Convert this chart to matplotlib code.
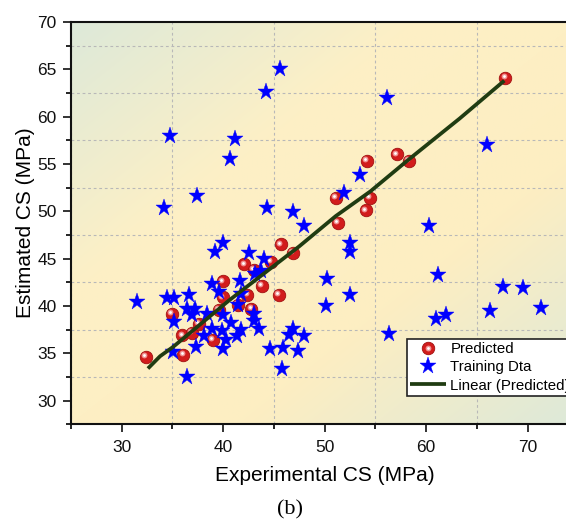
import numpy as np
import matplotlib
matplotlib.use('Agg')
import matplotlib.pyplot as plt
import matplotlib.transforms as mtransforms
from matplotlib.colors import LinearSegmentedColormap
from matplotlib.ticker import MultipleLocator, FixedLocator

##### datos #####
# Predicted
pred_x = [32.4, 35.0, 36.0, 36.1, 36.9, 37.6, 39.0, 39.6, 40.0, 40.0,
          41.5, 42.1, 42.4, 42.8, 43.0, 43.8, 44.7, 45.5, 45.7, 46.9,
          51.1, 51.3, 54.1, 54.2, 54.5, 57.1, 58.3, 67.8]
pred_y = [34.6, 39.2, 36.9, 34.8, 37.2, 38.1, 36.4, 39.6, 42.6, 40.9,
          40.1, 44.4, 41.2, 39.7, 43.8, 42.1, 44.7, 41.2, 46.5, 45.6,
          51.4, 48.8, 50.1, 55.3, 51.4, 56.0, 55.3, 64.1]

# Training Dta
train_x = [31.5, 34.2, 34.8, 34.5, 35.2, 35.2, 35.1, 36.4, 36.6, 36.4,
           36.9, 37.2, 37.4, 37.3, 38.4, 38.9, 39.2, 39.6, 40.0, 40.7,
           41.2, 38.9, 38.1, 39.9, 40.0, 40.3, 40.0, 40.8, 41.4, 41.8,
           41.5, 41.7, 41.8, 42.6, 43.1, 43.0, 43.0, 43.5, 44.0, 43.7,
           44.2, 44.3, 45.6, 44.6, 45.9, 45.8, 46.5, 46.9, 47.4, 48.0,
           46.9, 48.0, 50.2, 50.1, 51.9, 52.5, 52.5, 52.5, 53.5, 56.1,
           56.3, 60.3, 61.2, 61.0, 62.0, 66.0, 66.3, 67.6, 69.5, 71.3]
train_y = [40.4, 50.3, 58.0, 40.8, 40.8, 38.3, 35.1, 32.5, 41.2, 39.7,
           39.1, 39.7, 51.6, 35.7, 39.2, 42.3, 45.7, 41.5, 46.7, 55.5,
           57.6, 37.6, 36.8, 37.4, 35.5, 36.4, 39.0, 38.2, 36.8, 37.5,
           40.1, 42.6, 41.3, 45.6, 43.4, 39.2, 38.4, 37.6, 45.0, 43.7,
           62.6, 50.3, 65.0, 35.5, 35.6, 33.4, 36.9, 37.6, 35.3, 36.8,
           49.9, 48.5, 42.8, 40.0, 51.9, 46.7, 45.7, 41.2, 53.8, 62.0,
           37.0, 48.5, 43.3, 38.6, 39.0, 57.0, 39.5, 42.0, 41.9, 39.8]

# Linear (Predicted)
fit_x = [32.6, 33.8, 35.1, 40.6, 47.5, 51.1, 54.5, 58.2, 63.3, 67.7]
fit_y = [33.4, 34.7, 35.7, 40.6, 46.3, 49.5, 52.1, 55.4, 59.8, 63.8]

# ticks
x_major = [30, 40, 50, 60, 70]
x_minor = [25, 35, 45, 55, 65, 75]
y_minor = [27.5, 32.5, 37.5, 42.5, 47.5, 52.5, 57.5, 62.5, 67.5]

##### figura #####
plt.rcParams['font.family'] = ['Liberation Sans', 'DejaVu Sans']
fig = plt.figure(figsize=(5.66, 5.22), dpi=100)
ax = fig.add_axes([0.125, 0.187, 0.897, 0.771])

# fondo degradado verde - amarillo - verde
cmap = LinearSegmentedColormap.from_list(
    'fondo', ['#dde9d9', '#fdf0c6', '#fdeec2', '#dde9d9'], N=256)
gx, gy = np.meshgrid(np.linspace(0, 1, 200), np.linspace(0, 1, 200))
grad = (gx + gy) / 2.0
ax.imshow(grad, cmap=cmap, extent=[0, 1, 0, 1], transform=ax.transAxes,
          aspect='auto', origin='upper', zorder=0, interpolation='bicubic')

# Predicted: esferas rojas
base = ax.plot(pred_x, pred_y, 'o', ms=9, mfc='#d21c1c', mec='#a01010',
               mew=0.6, zorder=3, label='Predicted')[0]
hl_tr = mtransforms.offset_copy(ax.transData, fig=fig, x=-1.3, y=1.3, units='points')
hl1 = ax.plot(pred_x, pred_y, 'o', ms=4.2, mfc='#f09090', mec='none',
              transform=hl_tr, zorder=3.1)[0]
hl2 = ax.plot(pred_x, pred_y, 'o', ms=2.0, mfc='white', mec='none',
              transform=hl_tr, zorder=3.2)[0]

# Training Dta
stars = ax.plot(train_x, train_y, '*', ms=12.5, color='#0000ff', mec='#0000ff',
                mew=0.3, zorder=4, label='Training Dta')[0]

# Linear (Predicted)
line = ax.plot(fit_x, fit_y, color='#203c12', lw=2.7, zorder=5,
               solid_capstyle='butt', label='Linear (Predicted)')[0]

ax.set_xlim(25, 75)
ax.set_ylim(27.5, 70)

ax.xaxis.set_major_locator(FixedLocator(x_major))
ax.xaxis.set_minor_locator(FixedLocator(x_minor))
ax.yaxis.set_major_locator(MultipleLocator(5))
ax.yaxis.set_minor_locator(FixedLocator(y_minor))
ax.tick_params(which='major', direction='out', length=6, width=1.2,
               labelsize=12.5, colors='#111111', pad=4)
ax.tick_params(axis='x', which='major', pad=5)
ax.tick_params(which='minor', direction='out', length=3.5, width=1.2)
ax.tick_params(top=False, right=False, which='both')
ax.set_axisbelow(True)
ax.grid(True, which='minor', color='#b8b8b8', linestyle=(0, (2.5, 2.5)),
        linewidth=0.8)
ax.grid(False, which='major')

for s in ['left', 'bottom', 'top', 'right']:
    ax.spines[s].set_linewidth(1.5)
    ax.spines[s].set_color('#111111')

ax.set_xlabel('Experimental CS (MPa)', fontsize=15, labelpad=8)
ax.set_ylabel('Estimated CS (MPa)', fontsize=15, labelpad=2)

fig.text(0.513, 0.004, '(b)', family='Liberation Serif', fontsize=16,
         ha='center', va='bottom')

leg = ax.legend([(base, hl1, hl2), stars, line],
                ['Predicted', 'Training Dta', 'Linear (Predicted)'],
                loc='upper left', bbox_to_anchor=(0.719, 0.350),
                bbox_transform=fig.transFigure, fontsize=10.8,
                frameon=True, fancybox=False, borderpad=0.2,
                handlelength=2.4, handletextpad=0.3, labelspacing=0.28,
                borderaxespad=0)
leg.get_frame().set_edgecolor('#222222')
leg.get_frame().set_linewidth(1.2)
leg.get_frame().set_alpha(1)
leg.set_zorder(10)

plt.savefig('out.png', dpi=100)
